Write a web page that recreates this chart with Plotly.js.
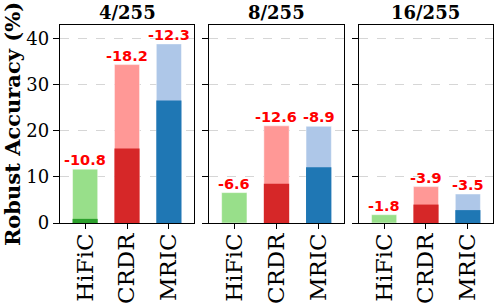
<!DOCTYPE html>
<html><head><meta charset="utf-8">
<script src="https://cdn.plot.ly/plotly-3.0.1.min.js"></script>
<style>html,body{margin:0;padding:0;background:#fff}#c{width:494px;height:306px}</style>
</head><body><div id="c"></div>
<script>
const panels = ["4/255", "8/255", "16/255"];
const methods = ["HiFiC", "CRDR", "MRIC"];
// light (before attack) and dark (after attack) accuracy per panel
const lightVals = [[11.7, 34.4, 38.9], [6.6, 21.1, 21.0], [1.8, 7.9, 6.3]];
const darkVals = [[0.9, 16.2, 26.6], [0.0, 8.5, 12.1], [0.0, 4.0, 2.8]];
const deltaLabels = [["-10.8", "-18.2", "-12.3"], ["-6.6", "-12.6", "-8.9"], ["-1.8", "-3.9", "-3.5"]];
const lightColors = ["#98df8a", "#ff9896", "#aec7e8"];
const darkColors = ["#2ca02c", "#d62728", "#1f77b4"];

const domains = [[0, 0.3095], [0.3441, 0.6559], [0.6905, 1]];
const traces = [];
const annotations = [];
const layout = {
  width: 494, height: 306,
  margin: {l: 60, r: 1, t: 25, b: 83},
  barmode: "overlay",
  showlegend: false,
  paper_bgcolor: "#fff", plot_bgcolor: "#fff",
  font: {family: "DejaVu Serif", color: "#000"},
  annotations: annotations
};
panels.forEach((p, i) => {
  const s = i === 0 ? "" : String(i + 1);
  traces.push({type: "bar", x: methods, y: lightVals[i], xaxis: "x" + s, yaxis: "y" + s,
    width: 0.6, marker: {color: lightColors, line: {color: "rgba(255,255,255,0.6)", width: 0.8}}, hoverinfo: "none"});
  traces.push({type: "bar", x: methods, y: darkVals[i], xaxis: "x" + s, yaxis: "y" + s,
    width: 0.6, marker: {color: darkColors, line: {width: 0}}, hoverinfo: "none"});
  layout["xaxis" + s] = {
    domain: domains[i], anchor: "y" + s, type: "category", range: [-0.6, 2.6],
    showline: true, mirror: true, linecolor: "#000", linewidth: 1.2,
    ticks: "outside", ticklen: 5, tickwidth: 1, tickcolor: "#000",
    tickangle: -90, ticklabelstandoff: -5,
    tickfont: {family: "DejaVu Serif", size: 23, color: "#000"},
    showgrid: false, fixedrange: true
  };
  layout["yaxis" + s] = {
    anchor: "x" + s, range: [0, 43], tickvals: [0, 10, 20, 30, 40],
    showline: true, mirror: true, linecolor: "#000", linewidth: 1.2,
    ticks: "outside", ticklen: 6, tickwidth: 1, tickcolor: "#000",
    showticklabels: i === 0, tickfont: {family: "DejaVu Serif", size: 18, color: "#000"},
    showgrid: true, gridcolor: "#cccccc", griddash: "dash", gridwidth: 0.8,
    zeroline: false, fixedrange: true
  };
  if (i > 0) layout["yaxis" + s].matches = "y";
  annotations.push({xref: "paper", yref: "paper", x: (domains[i][0] + domains[i][1]) / 2, y: 1,
    xanchor: "center", yanchor: "bottom", yshift: 0, showarrow: false, text: p,
    font: {family: "DejaVu Serif", size: 18, weight: "bold", color: "#000"}});
  methods.forEach((m, j) => {
    annotations.push({xref: "x" + s, yref: "y" + s, x: m, y: lightVals[i][j],
      xanchor: "center", yanchor: "bottom", yshift: -1, showarrow: false, text: deltaLabels[i][j],
      font: {family: "DejaVu Sans", size: 14.5, weight: "bold", color: "#ff0000"}});
  });
});
layout.yaxis.title = {text: "Robust Accuracy (%)", standoff: 4,
  font: {family: "DejaVu Serif", size: 21, weight: "bold", color: "#000"}};
Plotly.newPlot("c", traces, layout, {staticPlot: true});
</script></body></html>
